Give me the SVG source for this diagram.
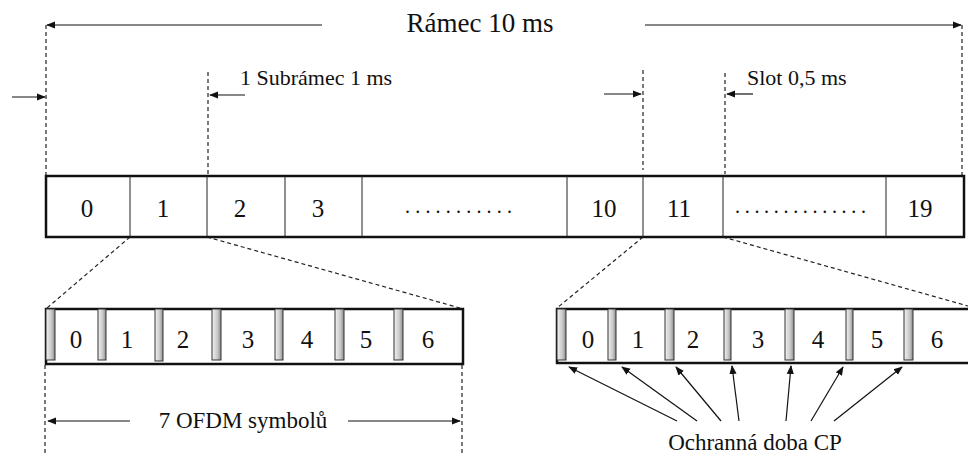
<svg xmlns="http://www.w3.org/2000/svg" width="968" height="456" viewBox="0 0 968 456">
<defs>
<linearGradient id="cpg" x1="0" y1="0" x2="1" y2="0">
<stop offset="0" stop-color="#f2f2f2"/>
<stop offset="0.6" stop-color="#c8c8c8"/>
<stop offset="1" stop-color="#8c8c8c"/>
</linearGradient>
<marker id="ah" viewBox="0 0 10 10" refX="9" refY="5" markerWidth="9" markerHeight="9" markerUnits="userSpaceOnUse" orient="auto">
<path d="M0,1 L10,5 L0,9 Z" fill="#111"/>
</marker>
</defs>
<style>
text{font-family:"Liberation Serif","Times New Roman",serif;fill:#111}
.title{font-size:27px}
.lab{font-size:22px}
.lab2{font-size:23px}
.num{font-size:25px}
.dots{font-size:20px}
.box{fill:#fff;stroke:#111;stroke-width:2.5}
.div{stroke:#222;stroke-width:1}
.dash{stroke:#222;stroke-width:1.2;stroke-dasharray:4,3;fill:none}
.arr{stroke:#111;stroke-width:1.2;fill:none;marker-end:url(#ah)}
.cp{fill:url(#cpg);stroke:#333;stroke-width:1}
</style>
<rect width="968" height="456" fill="#fff"/>

<g id="connectors">
<line class="dash" x1="46" y1="25" x2="46" y2="176"/>
<line class="dash" x1="962" y1="25" x2="962" y2="176"/>
<line class="dash" x1="208" y1="72" x2="208" y2="174"/>
<line class="dash" x1="643" y1="70" x2="643" y2="170"/>
<line class="dash" x1="725" y1="73" x2="725" y2="174"/>
<line class="arr" x1="322" y1="25" x2="47" y2="25"/>
<line class="arr" x1="645" y1="25" x2="961" y2="25"/>
<line class="arr" x1="12" y1="97" x2="45" y2="97"/>
<line class="arr" x1="245" y1="95" x2="210" y2="95"/>
<line class="arr" x1="604" y1="94" x2="641" y2="94"/>
<line class="arr" x1="753" y1="94" x2="727" y2="94"/>
<line class="dash" x1="130" y1="237" x2="47" y2="308"/>
<line class="dash" x1="207" y1="237" x2="460" y2="308"/>
<line class="dash" x1="643" y1="237" x2="557" y2="308"/>
<line class="dash" x1="723" y1="237" x2="968" y2="306"/>
<line class="dash" x1="45" y1="365" x2="45" y2="456"/>
<line class="dash" x1="462" y1="365" x2="462" y2="456"/>
<line class="arr" x1="130" y1="421" x2="48" y2="421"/>
<line class="arr" x1="348" y1="421" x2="460" y2="421"/>
<line class="arr" x1="677" y1="421" x2="569" y2="367"/>
<line class="arr" x1="697" y1="421" x2="622" y2="367"/>
<line class="arr" x1="721" y1="421" x2="676" y2="367"/>
<line class="arr" x1="739" y1="421" x2="732" y2="366"/>
<line class="arr" x1="786" y1="421" x2="791" y2="366"/>
<line class="arr" x1="811" y1="421" x2="843" y2="367"/>
<line class="arr" x1="834" y1="421" x2="902" y2="367"/>
</g>

<g id="labels">
<text class="title" x="480" y="32" text-anchor="middle">Rámec 10 ms</text>
<text class="lab" x="240" y="85">1 Subrámec 1 ms</text>
<text class="lab" x="747" y="85">Slot 0,5 ms</text>
<text class="lab2" x="243" y="428" text-anchor="middle">7 OFDM symbolů</text>
<text class="lab2" x="755" y="450" text-anchor="middle">Ochranná doba CP</text>
</g>

<g id="frame">
<rect class="box" x="46" y="176" width="918" height="61"/>
<line class="div" x1="130" y1="176" x2="130" y2="237"/>
<line class="div" x1="207" y1="176" x2="207" y2="237"/>
<line class="div" x1="285" y1="176" x2="285" y2="237"/>
<line class="div" x1="362" y1="176" x2="362" y2="237"/>
<line class="div" x1="567" y1="176" x2="567" y2="237"/>
<line class="div" x1="643" y1="176" x2="643" y2="237"/>
<line class="div" x1="723" y1="176" x2="723" y2="237" stroke-width="2"/>
<line class="div" x1="886" y1="176" x2="886" y2="237"/>
<text class="num" x="87" y="217" text-anchor="middle">0</text>
<text class="num" x="163" y="217" text-anchor="middle">1</text>
<text class="num" x="240" y="217" text-anchor="middle">2</text>
<text class="num" x="318" y="217" text-anchor="middle">3</text>
<text class="dots" x="405" y="213" textLength="107" lengthAdjust="spacing">...........</text>
<text class="num" x="604" y="217" text-anchor="middle">10</text>
<text class="num" x="679" y="217" text-anchor="middle">11</text>
<text class="dots" x="735" y="213" textLength="131" lengthAdjust="spacing">..............</text>
<text class="num" x="920" y="217" text-anchor="middle">19</text>
</g>

<g id="subframe-left">
<rect class="box" x="46" y="309" width="417" height="55"/>
<rect class="cp" x="46" y="309" width="9" height="51"/>
<rect class="cp" x="98" y="309" width="8" height="51"/>
<rect class="cp" x="155" y="309" width="8" height="52"/>
<rect class="cp" x="212" y="309" width="9" height="51"/>
<rect class="cp" x="275" y="309" width="8" height="51"/>
<rect class="cp" x="335" y="309" width="9" height="51"/>
<rect class="cp" x="394" y="309" width="9" height="51"/>
<text class="num" x="76" y="348" text-anchor="middle">0</text>
<text class="num" x="127" y="348" text-anchor="middle">1</text>
<text class="num" x="183" y="348" text-anchor="middle">2</text>
<text class="num" x="248" y="348" text-anchor="middle">3</text>
<text class="num" x="307" y="348" text-anchor="middle">4</text>
<text class="num" x="366" y="348" text-anchor="middle">5</text>
<text class="num" x="428" y="348" text-anchor="middle">6</text>
</g>

<g id="subframe-right">
<rect class="box" x="557" y="309" width="415" height="54"/>
<rect class="cp" x="557" y="309" width="9" height="51"/>
<rect class="cp" x="608" y="309" width="8" height="51"/>
<rect class="cp" x="665" y="309" width="9" height="51"/>
<rect class="cp" x="724" y="309" width="7" height="51"/>
<rect class="cp" x="785" y="309" width="9" height="51"/>
<rect class="cp" x="846" y="309" width="7" height="51"/>
<rect class="cp" x="904" y="309" width="9" height="51"/>
<text class="num" x="588" y="348" text-anchor="middle">0</text>
<text class="num" x="638" y="348" text-anchor="middle">1</text>
<text class="num" x="693" y="348" text-anchor="middle">2</text>
<text class="num" x="758" y="348" text-anchor="middle">3</text>
<text class="num" x="818" y="348" text-anchor="middle">4</text>
<text class="num" x="877" y="348" text-anchor="middle">5</text>
<text class="num" x="937" y="348" text-anchor="middle">6</text>
</g>
</svg>
